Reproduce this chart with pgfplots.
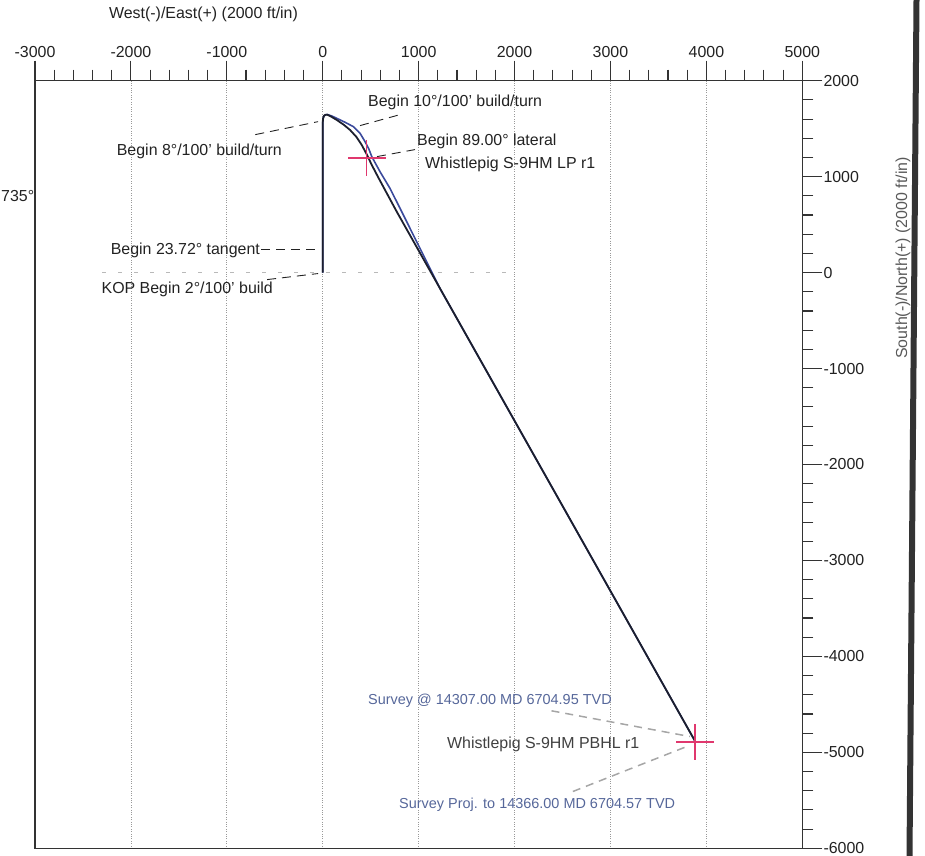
\documentclass[border=0pt]{standalone}
\usepackage{fontspec}
\setmainfont{Liberation Sans}
\usepackage{pgfplots}
\pgfplotsset{compat=1.18}
\definecolor{axisgray}{HTML}{333333}
\definecolor{textgray}{HTML}{222222}
\definecolor{planblue}{HTML}{3B4A9C}
\definecolor{surveyblack}{HTML}{1C1F2E}
\definecolor{targetred}{HTML}{E0386E}
\definecolor{notegray}{HTML}{56679A}
\newcommand{\lbl}{\fontsize{16}{19}\selectfont}
\newcommand{\sml}{\fontsize{14.5}{17}\selectfont}

% plan (blue) and survey (black) trajectories, ft
\pgfplotstableread{
x y
0 0
0 1560
3 1605
12 1632
25 1643
45 1648
90 1634
146 1608
230 1568
319 1521
390 1450
441 1365
480 1290
511 1209
597 1052
701 878
805 672
1223 -167
3880 -4880
}\plan
\pgfplotstableread{
x y
0 0
0 1560
3 1605
12 1632
25 1643
45 1646
80 1630
146 1591
220 1540
284 1487
350 1415
406 1331
460 1230
511 1122
580 990
649 862
771 636
3880 -4880
}\survey

\begin{document}
\begin{tikzpicture}[x=1bp,y=1bp]
\useasboundingbox (0,0) rectangle (925,856);

\begin{axis}[
  at={(35bp,7.7bp)}, anchor=south west,
  scale only axis, width=767.3bp, height=767.6bp,
  xmin=-3000, xmax=5000, ymin=-6000, ymax=2000,
  xtick={-3000,-2000,...,5000}, ytick={-6000,-5000,...,2000},
  minor x tick num=4, minor y tick num=4,
  xtick pos=right, ytick pos=right,
  xticklabel pos=right, yticklabel pos=right,
  tick align=outside,
  major tick length=20bp, minor tick length=11bp,
  axis line style={axisgray, line width=1.3bp},
  tick style={axisgray, line width=1.1bp},
  tick label style={font=\lbl, text=textgray},
  yticklabel style={inner xsep=1bp},
  /pgf/number format/assume math mode=true,
  /pgf/number format/set thousands separator={},
  xmajorgrids, grid style={dotted, gray!80, line width=0.7bp},
  clip=false,
]
\draw[gray!55, dash pattern=on 4bp off 12bp, line width=0.8bp]
  (axis cs:-2300,0) -- (axis cs:2000,0);

\addplot[planblue, line width=1.6bp] table {\plan};
\addplot[surveyblack, line width=1.8bp] table {\survey};

% targets
\addplot[only marks, mark=-, mark size=19bp, targetred,
  mark options={line width=2bp}] coordinates {(457,1191) (3880,-4890)};
\addplot[only marks, mark=|, mark size=18bp, targetred,
  mark options={line width=1.6bp}] coordinates {(457,1191) (3880,-4890)};

% upper annotations
\begin{scope}[textgray, dash pattern=on 9bp off 6bp, line width=0.9bp]
\draw (axis cs:389,1532) -- (axis cs:805,1646);
\draw (axis cs:-703,1438) -- (axis cs:-49,1573);
\draw (axis cs:566,1209) -- (axis cs:962,1282);
\draw (axis cs:-640,240) -- (axis cs:-30,240);
\draw (axis cs:-580,-73) -- (axis cs:-49,-10);
\end{scope}
\node[anchor=west, inner sep=0, font=\lbl, text=textgray] at (axis cs:472,1771) {Begin 10°/100' build/turn};
\node[anchor=east, inner sep=0, font=\lbl, text=textgray] at (axis cs:-424,1261) {Begin 8°/100' build/turn};
\node[anchor=west, inner sep=0, font=\lbl, text=textgray] at (axis cs:983,1365) {Begin 89.00° lateral};
\node[anchor=west, inner sep=0, font=\lbl, text=textgray] at (axis cs:1066,1125) {Whistlepig S-9HM LP r1};
\node[anchor=east, inner sep=0, font=\lbl, text=textgray] at (axis cs:-653,229) {Begin 23.72° tangent};
\node[anchor=east, inner sep=0, font=\lbl, text=textgray] at (axis cs:-518,-177) {KOP Begin 2°/100' build};

% lower annotations
\begin{scope}[gray!70, dash pattern=on 8bp off 6bp, line width=1.5bp]
\draw (axis cs:2385,-4567) -- (axis cs:3827,-4835);
\draw (axis cs:2608,-5408) -- (axis cs:3796,-4939);
\end{scope}
\node[anchor=west, inner sep=0, font=\sml, text=notegray] at (axis cs:472,-4460) {Survey @ 14307.00 MD 6704.95 TVD};
\node[anchor=west, inner sep=0, font=\lbl, text=black!75] at (axis cs:1295,-4918) {Whistlepig S-9HM PBHL r1};
\node[anchor=west, inner sep=0, font=\sml, text=notegray] at (axis cs:795,-5543) {Survey Proj. to 14366.00 MD 6704.57 TVD};
\end{axis}

% axis titles
\node[font=\lbl, text=textgray] at (203.5,842) {West(-)/East(+) (2000 ft/in)};
\node[font=\lbl, text=black!65, rotate=90] at (903,598) {South(-)/North(+) (2000 ft/in)};

% cut-off fragment and page edge bar of the scanned sheet
\node[anchor=west, inner sep=0, font=\lbl, text=textgray] at (1,660) {735°};
\draw[axisgray, line width=6bp] (916.5,856) -- (909.5,0);
\end{tikzpicture}
\end{document}
